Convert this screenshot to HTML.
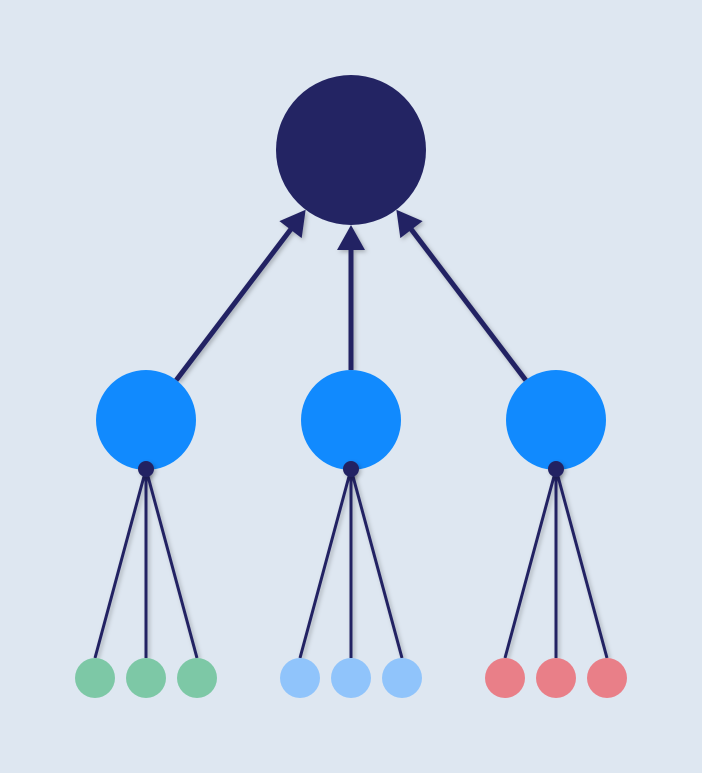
<!DOCTYPE html>
<html><head><meta charset="utf-8"><style>
html,body{margin:0;padding:0;background:#dee7f1;}
svg{display:block;}
</style></head><body>
<svg id="chart" width="702" height="773" viewBox="0 0 702 773" xmlns="http://www.w3.org/2000/svg">
<defs>
<filter id="sh" filterUnits="userSpaceOnUse" x="0" y="0" width="702" height="773"><feDropShadow dx="2" dy="2" stdDeviation="2" flood-color="#000" flood-opacity="0.25"/></filter>
</defs>
<rect width="702" height="773" fill="#dee7f1"/>
</svg>
<script>
const rootNode = {x:351, y:150, r:75};
const midX = [146, 351, 556];
const midY = 420;
const midR = 50;
const leafOffsets = [-51, 0, 51];
const leafY = 678;
const leafR = 20;
const leafColors = ['#7dc8a6', '#90c4fb', '#e97f88'];
const groupNames = ['green', 'blue', 'red'];

const svg = document.getElementById('chart');
const NS = 'http://www.w3.org/2000/svg';
function mk(tag, attrs){const e=document.createElementNS(NS,tag);for(const k in attrs)e.setAttribute(k,attrs[k]);svg.appendChild(e);return e;}

// arrows from mid nodes to root
midX.forEach((mx,i)=>{
  const dx = rootNode.x - mx, dy = rootNode.y - midY;
  const L = Math.hypot(dx,dy), ux=dx/L, uy=dy/L;
  const sx = mx + ux*midR, sy = midY + uy*midR;
  const tx = rootNode.x - ux*rootNode.r, ty = rootNode.y - uy*rootNode.r;
  const ah = 25, aw = 14;
  const bx = tx - ux*ah, by = ty - uy*ah;
  const g = mk('g',{filter:'url(#sh)'});
  
  
  const l = document.createElementNS(NS,'line');
  [['x1',sx],['y1',sy],['x2',bx+ux*2],['y2',by+uy*2],['stroke','#232463'],['stroke-width',5]].forEach(a=>l.setAttribute(a[0],a[1]));
  g.appendChild(l);
  const p = document.createElementNS(NS,'polygon');
  p.setAttribute('points', `${tx},${ty} ${bx-uy*aw},${by+ux*aw} ${bx+uy*aw},${by-ux*aw}`);
  p.setAttribute('fill','#232463');
  g.appendChild(p);
});

// leaf lines
midX.forEach((mx,i)=>{
  leafOffsets.forEach((o,j)=>{
    const l = mk('line',{x1:mx,y1:midY+49,x2:mx+o,y2:leafY-leafR,stroke:'#232463','stroke-width':3,filter:'url(#sh)'});
    
    
  });
});

// root
const rc = mk('circle',{cx:rootNode.x,cy:rootNode.y,r:rootNode.r,fill:'#232463'});



// mid nodes
midX.forEach((mx,i)=>{
  const c = mk('circle',{cx:mx,cy:midY,r:midR,fill:'#118afe'});
  
  
  const d = mk('circle',{cx:mx,cy:midY+49,r:8,fill:'#232463',filter:'url(#sh)'});
  
  
});

// leaves
midX.forEach((mx,i)=>{
  leafOffsets.forEach((o,j)=>{
    const c = mk('circle',{cx:mx+o,cy:leafY,r:leafR,fill:leafColors[i]});
    
    
  });
});
</script>
</body></html>
